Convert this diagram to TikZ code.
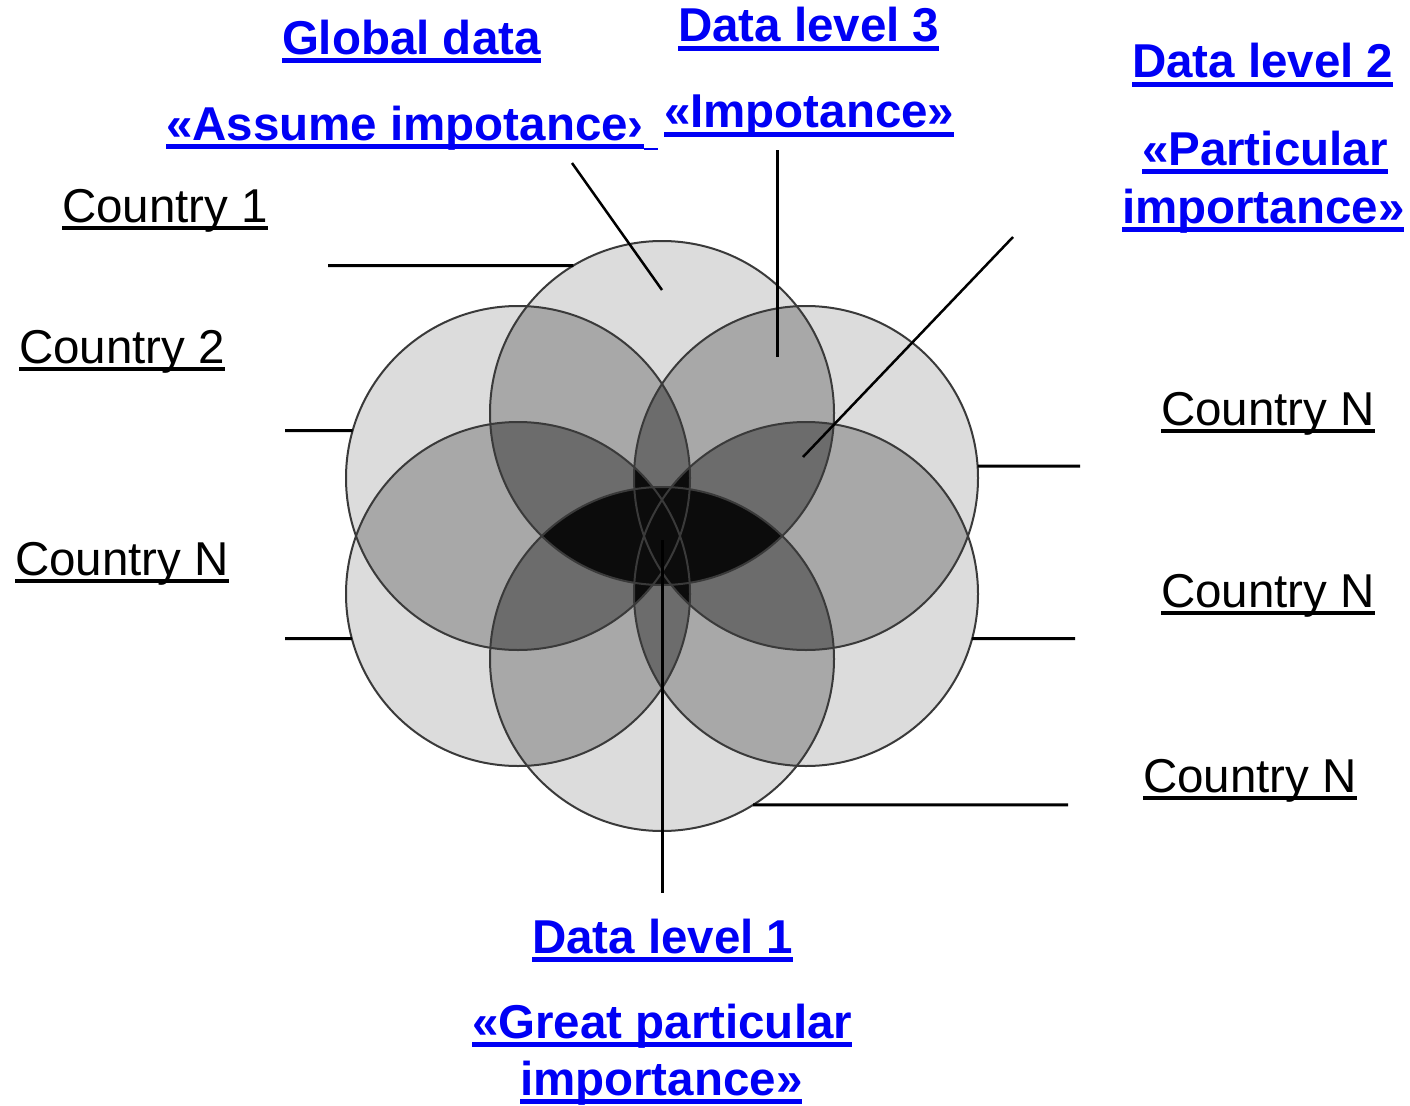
\documentclass[tikz,border=0pt]{standalone}
\usepackage{fontspec}
\setmainfont{Liberation Sans}
\definecolor{lnk}{RGB}{0,0,245}
\definecolor{gA}{RGB}{220,220,220}
\definecolor{gB}{RGB}{168,168,168}
\definecolor{gC}{RGB}{108,108,108}
\definecolor{gD}{RGB}{12,12,12}
\definecolor{ringc}{RGB}{58,58,58}
\newsavebox\ulboxA
\newcommand\ulb[1]{\sbox\ulboxA{#1}\rlap{\rule[-9pt]{\wd\ulboxA}{5pt}}\usebox\ulboxA}
\newcommand\ulr[1]{\sbox\ulboxA{#1}\rlap{\rule[-8pt]{\wd\ulboxA}{3.6pt}}\usebox\ulboxA}
\begin{document}
\begin{tikzpicture}[x=1pt,y=-1pt,
  lbl/.style={anchor=base west, inner sep=0pt, outer sep=0pt},
  blu/.style={lbl, text=lnk, font=\fontsize{47.5pt}{57pt}\selectfont\bfseries},
  blk/.style={lbl, text=black, font=\fontsize{47.5pt}{57pt}\selectfont},
  ring/.style={circle, draw=ringc, line width=2pt, minimum size=344pt, inner sep=0pt, outer sep=0pt},
  conn/.style={draw=black, line width=3pt},
  leader/.style={draw=black, line width=2.5pt}]
\fill[white] (0,0) rectangle (1410,1105);
\useasboundingbox (0,0) rectangle (1410,1105);
% circle centres
\coordinate (c1) at (662,413);
\coordinate (c2) at (806,478);
\coordinate (c3) at (806,594);
\coordinate (c4) at (662,659);
\coordinate (c5) at (518,594);
\coordinate (c6) at (518,478);
% shading by overlap count
\foreach \i in {1,...,6}{\fill[gA] (c\i) circle[radius=172pt];}
\foreach \i in {1,...,5}{
  \pgfmathtruncatemacro\ia{\i+1}
  \foreach \j in {\ia,...,6}{
    \begin{scope}
      \clip (c\i) circle[radius=172pt];
      \fill[gB] (c\j) circle[radius=172pt];
    \end{scope}}}
\foreach \i in {1,...,4}{
  \pgfmathtruncatemacro\ia{\i+1}
  \foreach \j in {\ia,...,5}{
    \pgfmathtruncatemacro\ja{\j+1}
    \foreach \k in {\ja,...,6}{
      \begin{scope}
        \clip (c\i) circle[radius=172pt];
        \clip (c\j) circle[radius=172pt];
        \fill[gC] (c\k) circle[radius=172pt];
      \end{scope}}}}
\foreach \i in {1,...,3}{
  \pgfmathtruncatemacro\ia{\i+1}
  \foreach \j in {\ia,...,4}{
    \pgfmathtruncatemacro\ja{\j+1}
    \foreach \k in {\ja,...,5}{
      \pgfmathtruncatemacro\ka{\k+1}
      \foreach \l in {\ka,...,6}{
        \begin{scope}
          \clip (c\i) circle[radius=172pt];
          \clip (c\j) circle[radius=172pt];
          \clip (c\k) circle[radius=172pt];
          \fill[gD] (c\l) circle[radius=172pt];
        \end{scope}}}}}
% outlines
\node[ring] (n1) at (c1) {};
\node[ring] (n2) at (c2) {};
\node[ring] (n3) at (c3) {};
\node[ring] (n4) at (c4) {};
\node[ring] (n5) at (c5) {};
\node[ring] (n6) at (c6) {};
% labels
\node[blu] (gd)  at (282,54.5) {\ulb{Global data}};
\node[blu] (ai)  at (166,140) {\ulb{«Assume impotance›}\rule[-10pt]{14pt}{1.5pt}};
\node[blu] (dl3) at (678,42) {\ulb{Data level 3}};
\node[blu] (imp) at (664,128) {\ulb{«Impotance»}};
\node[blu] (dl2) at (1132,78) {\ulb{Data level 2}};
\node[blu] (pa1) at (1142,165) {\ulb{«Particular}};
\node[blu] (pa2) at (1122,223) {\ulb{importance»}};
\node[blu] (dl1) at (532,953) {\ulb{Data level 1}};
\node[blu] (gp1) at (472,1038) {\ulb{«Great particular}};
\node[blu] (gp2) at (520,1095) {\ulb{importance»}};
\node[blk] (k1) at (62,222) {\ulr{Country 1}};
\node[blk] (k2) at (19,363) {\ulr{Country 2}};
\node[blk] (k3) at (15,575) {\ulr{Country N}};
\node[blk] (k4) at (1161,425) {\ulr{Country N}};
\node[blk] (k5) at (1161,607) {\ulr{Country N}};
\node[blk] (k6) at (1143,792) {\ulr{Country N}};
% connector ends
\coordinate (e1) at (328,265.6);
\coordinate (e2) at (285,430.6);
\coordinate (e3) at (285,638.5);
\coordinate (e4) at (1080,466);
\coordinate (e5) at (1075,638.5);
\coordinate (e6) at (1068,804.9);
\draw[conn] (e1) -- (n1.121);
\draw[conn] (e2) -- (n6.164);
\draw[conn] (e3) -- (n5.195);
\draw[conn] (e4) -- (n2.4);
\draw[conn] (e5) -- (n3.345);
\draw[conn] (e6) -- (n4.302);
% leaders to levels
\coordinate (ga) at (572,163);
\coordinate (gb) at (662,290);
\coordinate (la) at (777,150);
\coordinate (lb) at (777,357);
\coordinate (ma) at (1013,237);
\coordinate (mb) at (803,457);
\coordinate (oa) at (662,540);
\coordinate (ob) at (662,893);
\draw[leader] (ga) -- (gb);
\draw[leader, line width=3pt] (la) -- (lb);
\draw[leader] (ma) -- (mb);
\draw[leader, line width=3pt] (oa) -- (ob);
\end{tikzpicture}
\end{document}
